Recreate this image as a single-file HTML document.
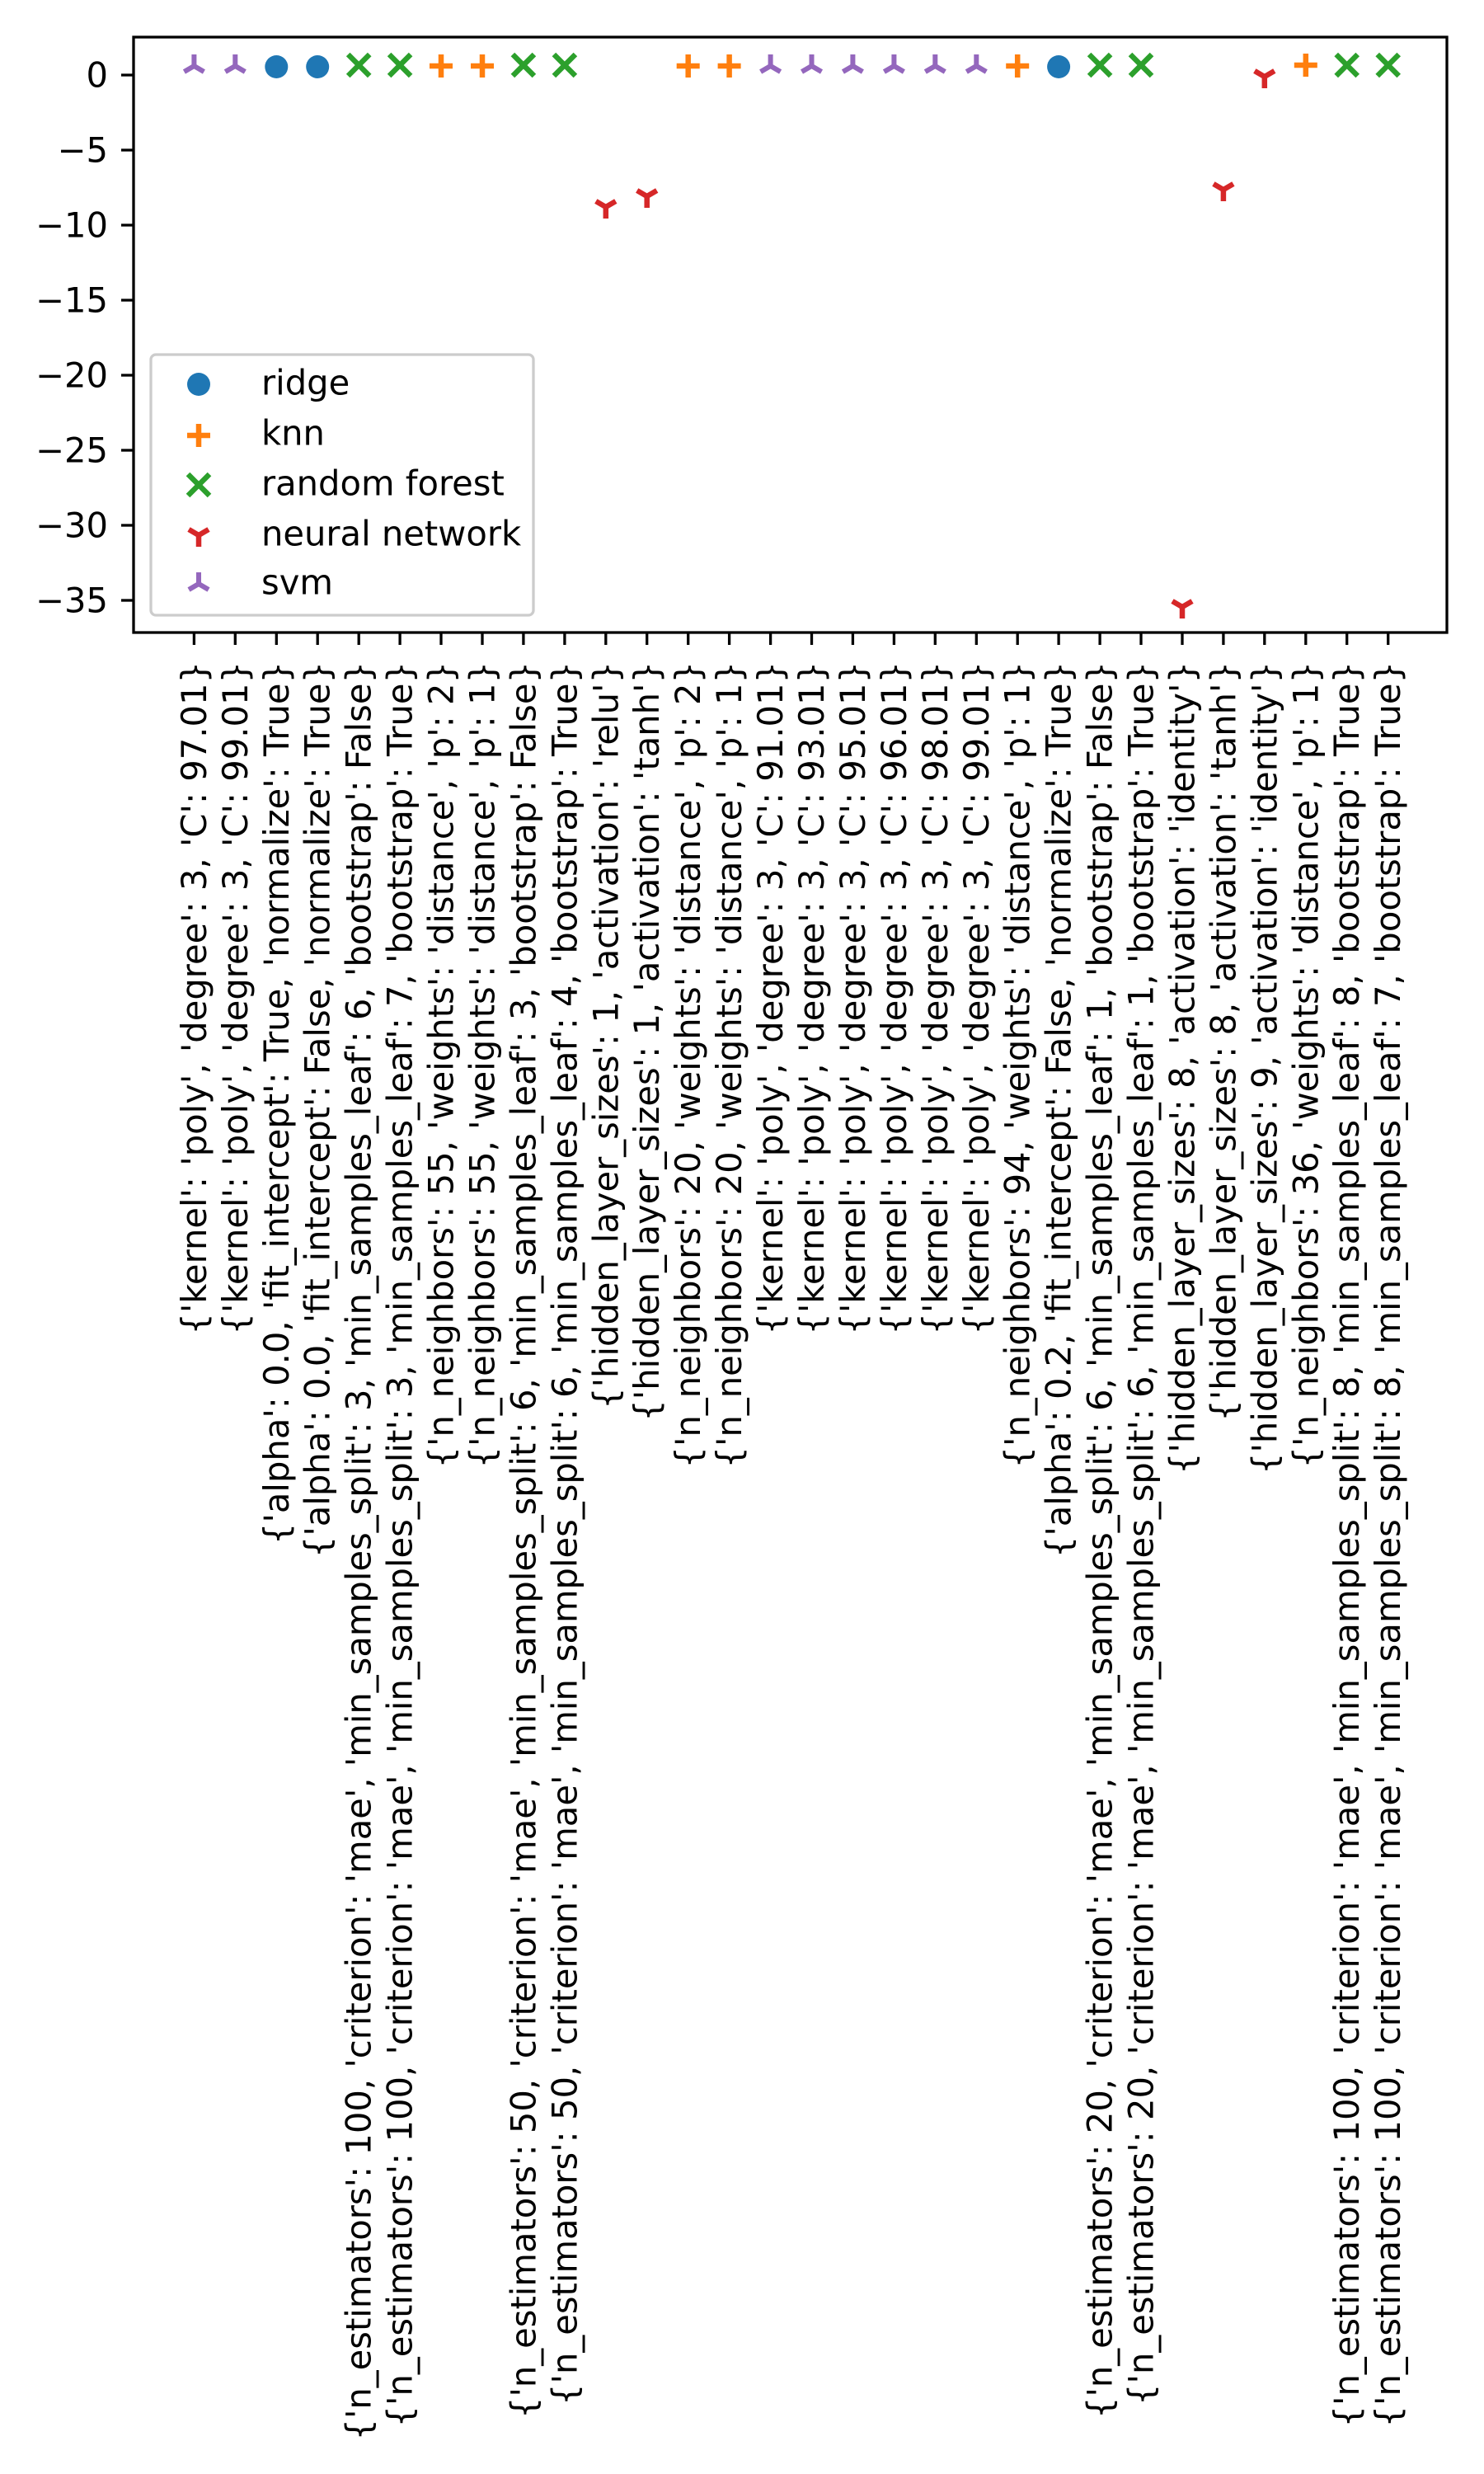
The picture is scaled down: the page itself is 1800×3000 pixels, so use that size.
<!DOCTYPE html>
<html><head><meta charset="utf-8"><style>
html,body{margin:0;padding:0;background:#fff;}
svg{display:block;}
text{font-family:"DejaVu Sans","Liberation Sans",sans-serif;font-size:41.67px;fill:#000;}
</style></head><body>
<svg width="1800" height="3000" viewBox="0 0 1800 3000" xmlns="http://www.w3.org/2000/svg">
<defs>
<g id="ridge"><circle cx="0" cy="0" r="14" fill="#1f77b4"/></g>
<g id="knn" stroke="#ff7f0e" stroke-width="6.5"><line x1="-14" y1="0" x2="14" y2="0"/><line x1="0" y1="-14" x2="0" y2="14"/></g>
<g id="rf" stroke="#2ca02c" stroke-width="6.5"><line x1="-13" y1="-13" x2="13" y2="13"/><line x1="-13" y1="13" x2="13" y2="-13"/></g>
<g id="nn" stroke="#d62728" stroke-width="6.5"><line x1="0" y1="0" x2="0" y2="14"/><line x1="0" y1="0" x2="-12" y2="-7"/><line x1="0" y1="0" x2="12" y2="-7"/></g>
<g id="svm" stroke="#9467bd" stroke-width="6"><line x1="0" y1="0" x2="0" y2="-14"/><line x1="0" y1="0" x2="-12" y2="7"/><line x1="0" y1="0" x2="12" y2="7"/></g>
</defs>
<rect x="162" y="45" width="1593" height="722" fill="none" stroke="#000" stroke-width="3.3"/>
<g stroke="#000" stroke-width="3.3">
<line x1="147" y1="91" x2="162" y2="91"/>
<line x1="147" y1="182" x2="162" y2="182"/>
<line x1="147" y1="273" x2="162" y2="273"/>
<line x1="147" y1="364" x2="162" y2="364"/>
<line x1="147" y1="455" x2="162" y2="455"/>
<line x1="147" y1="546" x2="162" y2="546"/>
<line x1="147" y1="637" x2="162" y2="637"/>
<line x1="147" y1="728" x2="162" y2="728"/>
</g>
<g text-anchor="end" dominant-baseline="central">
<text x="131" y="91">0</text>
<text x="131" y="182">−5</text>
<text x="131" y="273">−10</text>
<text x="131" y="364">−15</text>
<text x="131" y="455">−20</text>
<text x="131" y="546">−25</text>
<text x="131" y="637">−30</text>
<text x="131" y="728">−35</text>
</g>
<g stroke="#000" stroke-width="3.3">
<line x1="235.4" y1="767" x2="235.4" y2="782"/><line x1="285.3" y1="767" x2="285.3" y2="782"/><line x1="335.3" y1="767" x2="335.3" y2="782"/><line x1="385.2" y1="767" x2="385.2" y2="782"/><line x1="435.2" y1="767" x2="435.2" y2="782"/><line x1="485.1" y1="767" x2="485.1" y2="782"/><line x1="535.0" y1="767" x2="535.0" y2="782"/><line x1="585.0" y1="767" x2="585.0" y2="782"/><line x1="634.9" y1="767" x2="634.9" y2="782"/><line x1="684.9" y1="767" x2="684.9" y2="782"/><line x1="734.8" y1="767" x2="734.8" y2="782"/><line x1="784.7" y1="767" x2="784.7" y2="782"/><line x1="834.7" y1="767" x2="834.7" y2="782"/><line x1="884.6" y1="767" x2="884.6" y2="782"/><line x1="934.6" y1="767" x2="934.6" y2="782"/><line x1="984.5" y1="767" x2="984.5" y2="782"/><line x1="1034.4" y1="767" x2="1034.4" y2="782"/><line x1="1084.4" y1="767" x2="1084.4" y2="782"/><line x1="1134.3" y1="767" x2="1134.3" y2="782"/><line x1="1184.3" y1="767" x2="1184.3" y2="782"/><line x1="1234.2" y1="767" x2="1234.2" y2="782"/><line x1="1284.1" y1="767" x2="1284.1" y2="782"/><line x1="1334.1" y1="767" x2="1334.1" y2="782"/><line x1="1384.0" y1="767" x2="1384.0" y2="782"/><line x1="1434.0" y1="767" x2="1434.0" y2="782"/><line x1="1483.9" y1="767" x2="1483.9" y2="782"/><line x1="1533.8" y1="767" x2="1533.8" y2="782"/><line x1="1583.8" y1="767" x2="1583.8" y2="782"/><line x1="1633.7" y1="767" x2="1633.7" y2="782"/><line x1="1683.7" y1="767" x2="1683.7" y2="782"/>
</g>
<use href="#svm" x="235.4" y="80"/>
<use href="#svm" x="285.3" y="80"/>
<use href="#ridge" x="335.3" y="81"/>
<use href="#ridge" x="385.2" y="81"/>
<use href="#rf" x="435.2" y="79"/>
<use href="#rf" x="485.1" y="79"/>
<use href="#knn" x="535.0" y="80"/>
<use href="#knn" x="585.0" y="80"/>
<use href="#rf" x="634.9" y="79"/>
<use href="#rf" x="684.9" y="79"/>
<use href="#nn" x="734.8" y="251"/>
<use href="#nn" x="784.7" y="238"/>
<use href="#knn" x="834.7" y="80"/>
<use href="#knn" x="884.6" y="80"/>
<use href="#svm" x="934.6" y="80"/>
<use href="#svm" x="984.5" y="80"/>
<use href="#svm" x="1034.4" y="80"/>
<use href="#svm" x="1084.4" y="80"/>
<use href="#svm" x="1134.3" y="80"/>
<use href="#svm" x="1184.3" y="80"/>
<use href="#knn" x="1234.2" y="80"/>
<use href="#ridge" x="1284.1" y="81"/>
<use href="#rf" x="1334.1" y="79"/>
<use href="#rf" x="1384.0" y="79"/>
<use href="#nn" x="1434.0" y="736"/>
<use href="#nn" x="1483.9" y="230"/>
<use href="#nn" x="1533.8" y="93"/>
<use href="#knn" x="1583.8" y="79"/>
<use href="#rf" x="1633.7" y="79"/>
<use href="#rf" x="1683.7" y="79"/>
<rect x="183" y="430" width="464" height="316" rx="6" ry="6" fill="#fff" fill-opacity="0.8" stroke="#cccccc" stroke-width="3.3"/>
<use href="#ridge" x="241" y="466"/>
<use href="#knn" x="241" y="528"/>
<use href="#rf" x="241" y="588"/>
<use href="#nn" x="241" y="649"/>
<use href="#svm" x="241" y="708"/>
<g dominant-baseline="central">
<text x="317" y="464">ridge</text>
<text x="317" y="525">knn</text>
<text x="317" y="586">random forest</text>
<text x="317" y="647">neural network</text>
<text x="317" y="706">svm</text>
</g>
<g text-anchor="end" dominant-baseline="central">
<text transform="translate(235.4,802) rotate(-90)">{'kernel': 'poly', 'degree': 3, 'C': 97.01}</text>
<text transform="translate(285.3,802) rotate(-90)">{'kernel': 'poly', 'degree': 3, 'C': 99.01}</text>
<text transform="translate(335.3,802) rotate(-90)">{'alpha': 0.0, 'fit_intercept': True, 'normalize': True}</text>
<text transform="translate(385.2,802) rotate(-90)">{'alpha': 0.0, 'fit_intercept': False, 'normalize': True}</text>
<text transform="translate(435.2,802) rotate(-90)">{'n_estimators': 100, 'criterion': 'mae', 'min_samples_split': 3, 'min_samples_leaf': 6, 'bootstrap': False}</text>
<text transform="translate(485.1,802) rotate(-90)">{'n_estimators': 100, 'criterion': 'mae', 'min_samples_split': 3, 'min_samples_leaf': 7, 'bootstrap': True}</text>
<text transform="translate(535.0,802) rotate(-90)">{'n_neighbors': 55, 'weights': 'distance', 'p': 2}</text>
<text transform="translate(585.0,802) rotate(-90)">{'n_neighbors': 55, 'weights': 'distance', 'p': 1}</text>
<text transform="translate(634.9,802) rotate(-90)">{'n_estimators': 50, 'criterion': 'mae', 'min_samples_split': 6, 'min_samples_leaf': 3, 'bootstrap': False}</text>
<text transform="translate(684.9,802) rotate(-90)">{'n_estimators': 50, 'criterion': 'mae', 'min_samples_split': 6, 'min_samples_leaf': 4, 'bootstrap': True}</text>
<text transform="translate(734.8,802) rotate(-90)">{'hidden_layer_sizes': 1, 'activation': 'relu'}</text>
<text transform="translate(784.7,802) rotate(-90)">{'hidden_layer_sizes': 1, 'activation': 'tanh'}</text>
<text transform="translate(834.7,802) rotate(-90)">{'n_neighbors': 20, 'weights': 'distance', 'p': 2}</text>
<text transform="translate(884.6,802) rotate(-90)">{'n_neighbors': 20, 'weights': 'distance', 'p': 1}</text>
<text transform="translate(934.6,802) rotate(-90)">{'kernel': 'poly', 'degree': 3, 'C': 91.01}</text>
<text transform="translate(984.5,802) rotate(-90)">{'kernel': 'poly', 'degree': 3, 'C': 93.01}</text>
<text transform="translate(1034.4,802) rotate(-90)">{'kernel': 'poly', 'degree': 3, 'C': 95.01}</text>
<text transform="translate(1084.4,802) rotate(-90)">{'kernel': 'poly', 'degree': 3, 'C': 96.01}</text>
<text transform="translate(1134.3,802) rotate(-90)">{'kernel': 'poly', 'degree': 3, 'C': 98.01}</text>
<text transform="translate(1184.3,802) rotate(-90)">{'kernel': 'poly', 'degree': 3, 'C': 99.01}</text>
<text transform="translate(1234.2,802) rotate(-90)">{'n_neighbors': 94, 'weights': 'distance', 'p': 1}</text>
<text transform="translate(1284.1,802) rotate(-90)">{'alpha': 0.2, 'fit_intercept': False, 'normalize': True}</text>
<text transform="translate(1334.1,802) rotate(-90)">{'n_estimators': 20, 'criterion': 'mae', 'min_samples_split': 6, 'min_samples_leaf': 1, 'bootstrap': False}</text>
<text transform="translate(1384.0,802) rotate(-90)">{'n_estimators': 20, 'criterion': 'mae', 'min_samples_split': 6, 'min_samples_leaf': 1, 'bootstrap': True}</text>
<text transform="translate(1434.0,802) rotate(-90)">{'hidden_layer_sizes': 8, 'activation': 'identity'}</text>
<text transform="translate(1483.9,802) rotate(-90)">{'hidden_layer_sizes': 8, 'activation': 'tanh'}</text>
<text transform="translate(1533.8,802) rotate(-90)">{'hidden_layer_sizes': 9, 'activation': 'identity'}</text>
<text transform="translate(1583.8,802) rotate(-90)">{'n_neighbors': 36, 'weights': 'distance', 'p': 1}</text>
<text transform="translate(1633.7,802) rotate(-90)">{'n_estimators': 100, 'criterion': 'mae', 'min_samples_split': 8, 'min_samples_leaf': 8, 'bootstrap': True}</text>
<text transform="translate(1683.7,802) rotate(-90)">{'n_estimators': 100, 'criterion': 'mae', 'min_samples_split': 8, 'min_samples_leaf': 7, 'bootstrap': True}</text>
</g>
</svg>
</body></html>
